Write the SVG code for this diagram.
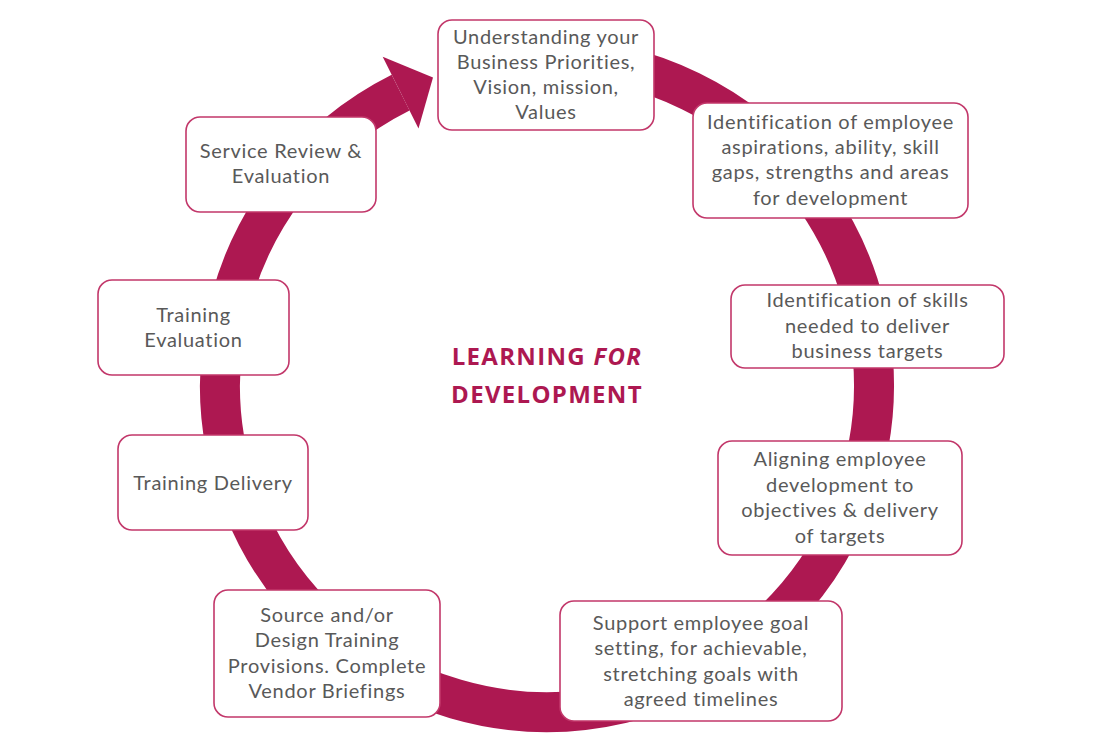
<svg xmlns="http://www.w3.org/2000/svg" width="1116" height="749" viewBox="0 0 1116 749">
<style>
.box{fill:#fff;stroke:#C2376A;stroke-width:1.6}
.t{font-family:Lato,"Liberation Sans",sans-serif;font-size:20px;letter-spacing:0.7px;fill:#595959;text-anchor:middle}
.title{font-family:"Open Sans","Liberation Sans",sans-serif;font-size:24px;letter-spacing:1.3px;font-weight:bold;fill:#AD1851;text-anchor:middle}
</style>
<rect width="1116" height="749" fill="#fff"/>
<g id="connectors">
<path d="M 547 58 A 327 327 0 1 1 400.6 92.6" fill="none" stroke="#AD1851" stroke-width="40"/>
<polygon points="382.7,56.8 433,77.5 418.5,128.4" fill="#AD1851"/>
</g>
<g id="n1"><rect class="box" x="438" y="20" width="216" height="110" rx="14"/>
<text class="t"><tspan x="546" y="44">Understanding your</tspan><tspan x="546" y="69">Business Priorities,</tspan><tspan x="546" y="94">Vision, mission,</tspan><tspan x="546" y="119">Values</tspan></text></g>
<g id="n2"><rect class="box" x="693" y="103" width="275" height="115" rx="14"/>
<text class="t"><tspan x="830.5" y="129">Identification of employee</tspan><tspan x="830.5" y="154">aspirations, ability, skill</tspan><tspan x="830.5" y="179">gaps, strengths and areas</tspan><tspan x="830.5" y="205">for development</tspan></text></g>
<g id="n3"><rect class="box" x="731" y="285" width="273" height="83" rx="14"/>
<text class="t"><tspan x="867.5" y="307">Identification of skills</tspan><tspan x="867.5" y="333">needed to deliver</tspan><tspan x="867.5" y="358">business targets</tspan></text></g>
<g id="n4"><rect class="box" x="718" y="441" width="244" height="114" rx="14"/>
<text class="t"><tspan x="840" y="466">Aligning employee</tspan><tspan x="840" y="492">development to</tspan><tspan x="840" y="517">objectives &amp; delivery</tspan><tspan x="840" y="543">of targets</tspan></text></g>
<g id="n5"><rect class="box" x="560" y="601" width="282" height="120" rx="14"/>
<text class="t"><tspan x="701" y="630">Support employee goal</tspan><tspan x="701" y="655">setting, for achievable,</tspan><tspan x="701" y="681">stretching goals with</tspan><tspan x="701" y="706">agreed timelines</tspan></text></g>
<g id="n6"><rect class="box" x="214" y="590" width="226" height="127" rx="14"/>
<text class="t"><tspan x="327" y="622">Source and/or</tspan><tspan x="327" y="647">Design Training</tspan><tspan x="327" y="673">Provisions. Complete</tspan><tspan x="327" y="698">Vendor Briefings</tspan></text></g>
<g id="n7"><rect class="box" x="118" y="435" width="190" height="95" rx="14"/>
<text class="t"><tspan x="213" y="490">Training Delivery</tspan></text></g>
<g id="n8"><rect class="box" x="98" y="280" width="191" height="95" rx="14"/>
<text class="t"><tspan x="193.5" y="322">Training</tspan><tspan x="193.5" y="347">Evaluation</tspan></text></g>
<g id="n9"><rect class="box" x="186" y="117" width="190" height="95" rx="14"/>
<text class="t"><tspan x="281" y="158">Service Review &amp;</tspan><tspan x="281" y="183">Evaluation</tspan></text></g>
<g id="title">
<text class="title" x="547" y="365">LEARNING <tspan font-style="italic">FOR</tspan></text>
<text class="title" x="547" y="403">DEVELOPMENT</text>
</g>
</svg>
